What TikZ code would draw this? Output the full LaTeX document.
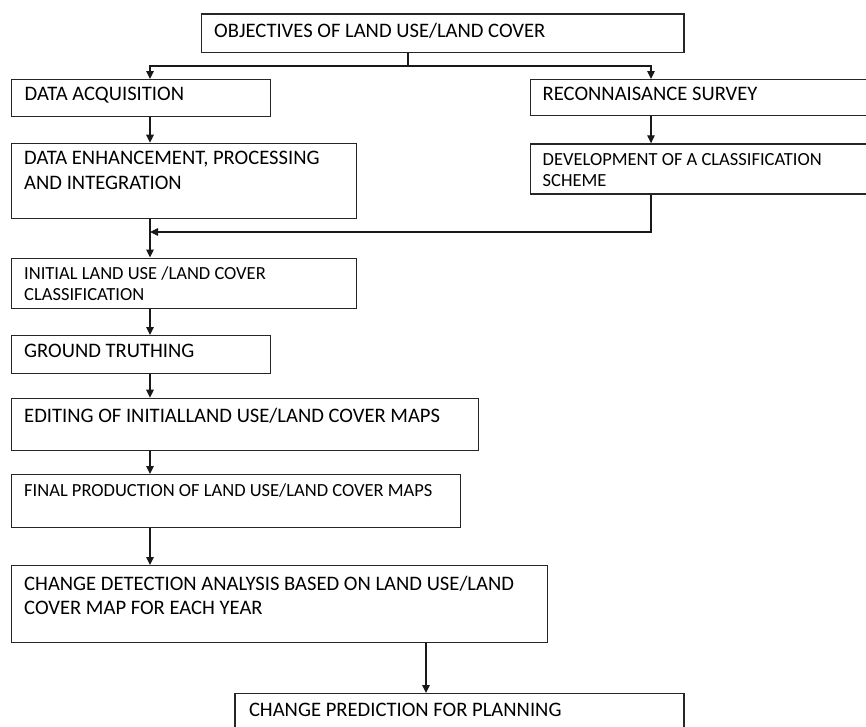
\documentclass[tikz,border=0pt]{standalone}
\usepackage{fontspec}
\setmainfont{Carlito}
\usetikzlibrary{arrows.meta}
\newcommand\mlines[1]{\parbox[t]{600pt}{\raggedright #1}}
\tikzset{
  box/.style={draw=black!85, line width=1.2pt, anchor=north west, inner sep=0pt, rectangle},
  lbl/.style={anchor=base west, inner sep=0pt, text=black, font=\fontsize{20.6pt}{25pt}\selectfont},
  smalltxt/.style={font=\fontsize{18.5pt}{21.3pt}\selectfont},
  arr/.style={line width=1.2pt, draw=black!90, -{Triangle[length=8pt,width=7.5pt]}},
  ln/.style={line width=1.2pt, draw=black!90}
}
\begin{document}
\begin{tikzpicture}[x=1pt,y=-1pt]
\useasboundingbox (0,0) rectangle (866,726);
\fill[white] (0,0) rectangle (866,726);

\node[box, minimum width=482.3pt, minimum height=38.4pt,
  label={[lbl, xshift=13pt, yshift=-24pt]north west:{OBJECTIVES OF LAND USE/LAND COVER}}] (obj) at (201,13.3) {};
\node[box, minimum width=259pt, minimum height=36.7pt,
  label={[lbl, xshift=13.5pt, yshift=-21.7pt]north west:{DATA ACQUISITION}}] (da) at (11,79) {};
\node[box, minimum width=338pt, minimum height=36pt,
  label={[lbl, xshift=12.5pt, yshift=-21.7pt]north west:{RECONNAISANCE SURVEY}}] (rec) at (530,79) {};
\node[box, minimum width=345pt, minimum height=75.3pt,
  label={[lbl, xshift=13pt, yshift=-21.3pt]north west:{\mlines{DATA ENHANCEMENT, PROCESSING\\AND INTEGRATION}}}] (enh) at (11,142.7) {};
\node[box, minimum width=338pt, minimum height=50pt,
  label={[lbl, smalltxt, xshift=12.5pt, yshift=-21.7pt]north west:{\mlines{DEVELOPMENT OF A CLASSIFICATION\\SCHEME}}}] (dev) at (530,143.3) {};
\node[box, minimum width=345pt, minimum height=50.5pt,
  label={[lbl, smalltxt, xshift=13pt, yshift=-21.8pt]north west:{\mlines{INITIAL LAND USE /LAND COVER\\CLASSIFICATION}}}] (init) at (11,257.5) {};
\node[box, minimum width=259pt, minimum height=37.7pt,
  label={[lbl, xshift=13pt, yshift=-22.7pt]north west:{GROUND TRUTHING}}] (gt) at (11,335) {};
\node[box, minimum width=466.7pt, minimum height=52.3pt,
  label={[lbl, xshift=13pt, yshift=-25pt]north west:{EDITING OF INITIALLAND USE/LAND COVER MAPS}}] (edit) at (11,397.7) {};
\node[box, minimum width=449pt, minimum height=53pt,
  label={[lbl, smalltxt, xshift=13pt, yshift=-22.7pt]north west:{FINAL PRODUCTION OF LAND USE/LAND COVER MAPS}}] (fin) at (11,474) {};
\node[box, minimum width=535.7pt, minimum height=76.5pt,
  label={[lbl, font=\fontsize{20.6pt}{24pt}\selectfont, xshift=13pt, yshift=-25pt]north west:{\mlines{CHANGE DETECTION ANALYSIS BASED ON LAND USE/LAND\\COVER MAP FOR EACH YEAR}}}] (chg) at (11,565) {};
\node[box, minimum width=449pt, minimum height=47pt,
  label={[lbl, xshift=14.5pt, yshift=-23.7pt]north west:{CHANGE PREDICTION FOR PLANNING}}] (pred) at (234.3,693) {};

\coordinate (lx) at (150,0);
\coordinate (rx) at (651,0);
\coordinate (cx) at (426,0);
\coordinate (split) at (408,66);
\coordinate (merge) at (150,232);

\draw[ln] (obj.south -| split) -- (split);
\draw[arr] (split) -| (da.north -| lx);
\draw[arr] (split) -| (rec.north -| rx);
\draw[arr] (da.south -| lx) -- (enh.north -| lx);
\draw[arr] (rec.south -| rx) -- (dev.north -| rx);
\draw[arr] (dev.south -| rx) |- (merge);
\draw[arr] (enh.south -| lx) -- (init.north -| lx);
\draw[arr] (init.south -| lx) -- (gt.north -| lx);
\draw[arr] (gt.south -| lx) -- (edit.north -| lx);
\draw[arr] (edit.south -| lx) -- (fin.north -| lx);
\draw[arr] (fin.south -| lx) -- (chg.north -| lx);
\draw[arr] (chg.south -| cx) -- (pred.north -| cx);
\end{tikzpicture}
\end{document}
